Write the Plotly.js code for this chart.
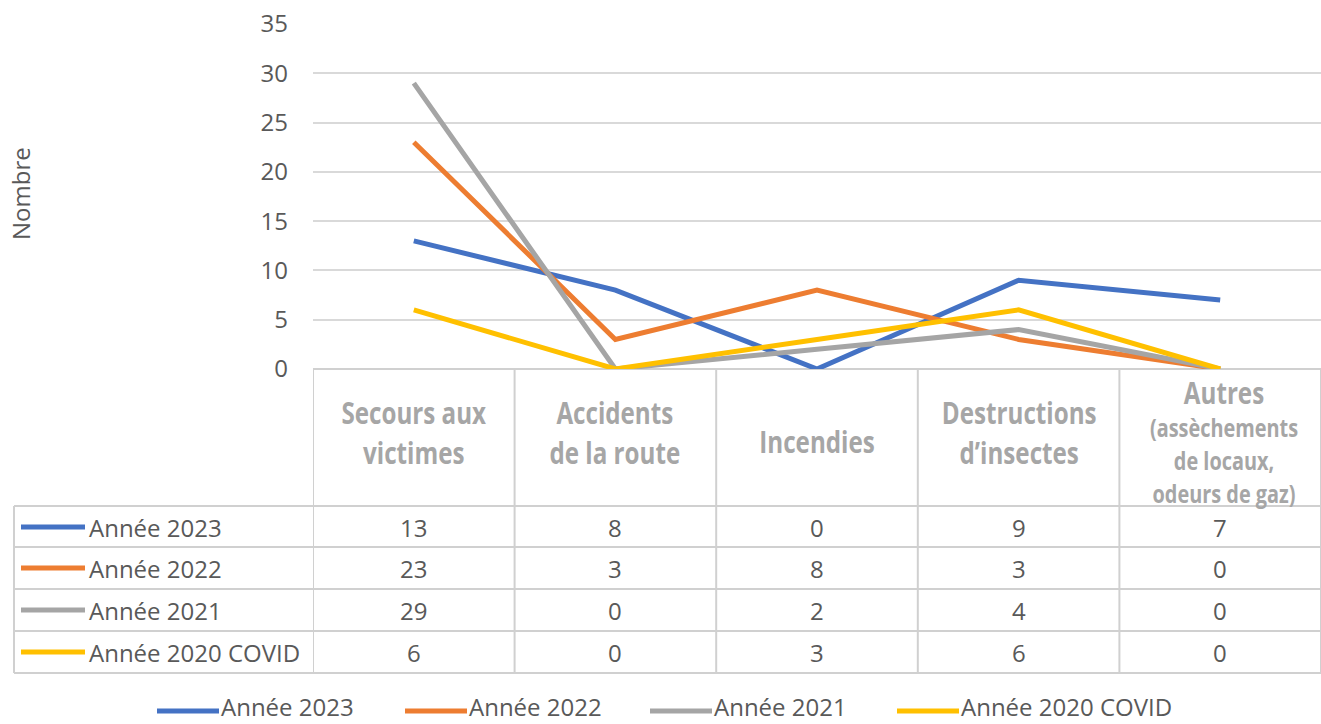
<!DOCTYPE html>
<html><head><meta charset="utf-8">
<script src="https://cdn.plot.ly/plotly-3.0.1.min.js"></script>
<style>html,body{margin:0;padding:0;background:#fff}</style></head>
<body>
<div id="chart" style="width:1321px;height:724px"></div>
<script>
// ---- data ----
const categories = ["Secours aux<br>victimes", "Accidents<br>de la route", "Incendies", "Destructions<br>d’insectes", "Autres"];
const autresDetail = "(assèchements<br>de locaux,<br>odeurs de gaz)";
const seriesNames = ["Année 2023", "Année 2022", "Année 2021", "Année 2020 COVID"];
const values2023 = [13, 8, 0, 9, 7];
const values2022 = [23, 3, 8, 3, 0];
const values2021 = [29, 0, 2, 4, 0];
const values2020 = [6, 0, 3, 6, 0];
const yTicks = [0, 5, 10, 15, 20, 25, 30, 35];
const yTitle = "Nombre";

// ---- style / layout ----
const allValues = [values2023, values2022, values2021, values2020];
const colors = ["#4472C4", "#ED7D31", "#A5A5A5", "#FFC000"];
const W = 1321, H = 724;
const px = x => x / W;
const py = y => 1 - y / H;
const gridCol = "#d9d9d9", tableCol = "#d0d0d0";
const txtCol = "#595959", headCol = "#a6a6a6";
const bodyFont = "Open Sans, Noto Sans, sans-serif";
const headFont = "Open Sans, Noto Sans, sans-serif";
const condense = 0.78;

const xIdx = categories.map((_, i) => i);
const traces = allValues.map((v, s) => ({
  type: "scatter", mode: "lines", x: xIdx, y: v, name: seriesNames[s],
  line: {color: colors[s], width: 5}, cliponaxis: false, showlegend: false
}));

const plotTop = 24, plotBottom = 369, plotLeft = 313;
const rowLines = [506, 547, 589, 631, 673];
const rowCenters = [527, 568, 610, 652];

const shapes = [];
const annotations = [];
const condensedIdx = [];
shapes.push({type: "line", xref: "paper", yref: "paper", x0: px(plotLeft), x1: 1, y0: py(plotBottom), y1: py(plotBottom), line: {color: tableCol, width: 2}, layer: "below"});
rowLines.forEach(y => shapes.push({type: "line", xref: "paper", yref: "paper", x0: px(14), x1: 1, y0: py(y), y1: py(y), line: {color: tableCol, width: 2}, layer: "below"}));
shapes.push({type: "line", xref: "paper", yref: "paper", x0: px(14), x1: px(14), y0: py(506), y1: py(673), line: {color: tableCol, width: 2}, layer: "below"});
for (let i = 0; i <= categories.length; i++) {
  shapes.push({type: "line", xref: "x", yref: "paper", x0: i - 0.5, x1: i - 0.5, y0: py(plotBottom), y1: py(673), line: {color: tableCol, width: 2}, layer: "below"});
}
categories.forEach((c, i) => {
  if (i === categories.length - 1) {
    condensedIdx.push(annotations.length);
    annotations.push({xref: "x", yref: "paper", x: i + 0.02, y: py(440), borderpad: 0,
      text: "<b><span style='font-size:31px'>" + c + "</span><br>" + autresDetail + "</b>", showarrow: false,
      font: {family: headFont, size: 25.5, color: headCol}, xanchor: "center", yanchor: "middle"});
  } else {
    const multi = c.indexOf("<br>") >= 0;
    condensedIdx.push(annotations.length);
    annotations.push({xref: "x", yref: "paper", x: i, y: py(multi ? 432 : 441), text: "<b>" + c + "</b>", showarrow: false,
      font: {family: headFont, size: 31, color: headCol}, xanchor: "center", yanchor: "middle"});
  }
});
allValues.forEach((v, s) => {
  const yc = rowCenters[s];
  shapes.push({type: "line", xref: "paper", yref: "paper", x0: px(21), x1: px(85), y0: py(yc), y1: py(yc), line: {color: colors[s], width: 5}});
  annotations.push({xref: "paper", yref: "paper", x: px(87), y: py(yc), text: seriesNames[s], showarrow: false,
    font: {family: bodyFont, size: 24, color: txtCol}, xanchor: "left", yanchor: "middle"});
  v.forEach((val, i) => {
    annotations.push({xref: "x", yref: "paper", x: i, y: py(yc), text: String(val), showarrow: false,
      font: {family: bodyFont, size: 24, color: txtCol}, xanchor: "center", yanchor: "middle"});
  });
});
const legendX = [157, 405, 650, 897];
seriesNames.forEach((n, s) => {
  const x0 = legendX[s];
  shapes.push({type: "line", xref: "paper", yref: "paper", x0: px(x0), x1: px(x0 + 62), y0: py(711), y1: py(711), line: {color: colors[s], width: 5}});
  annotations.push({xref: "paper", yref: "paper", x: px(x0 + 63), y: 0, text: n, showarrow: false, borderpad: 0,
    font: {family: bodyFont, size: 24, color: txtCol}, xanchor: "left", yanchor: "bottom"});
});
annotations.push({xref: "paper", yref: "paper", x: px(21), y: py(194), text: yTitle, textangle: -90, showarrow: false,
  font: {family: bodyFont, size: 24, color: txtCol}, xanchor: "center", yanchor: "middle"});

const layout = {
  width: W, height: H,
  margin: {l: 0, r: 0, t: 0, b: 0, pad: 0},
  paper_bgcolor: "#fff", plot_bgcolor: "#fff",
  showlegend: false,
  xaxis: {range: [-0.5, 4.5], domain: [px(plotLeft), 1], showticklabels: false, showgrid: false, zeroline: false, showline: false, ticks: "", fixedrange: true},
  yaxis: {range: [0, 35], domain: [py(plotBottom), py(plotTop)], tickvals: yTicks, ticktext: yTicks.map(String),
    showgrid: true, gridcolor: gridCol, gridwidth: 2, zeroline: false, showline: false, ticks: "",
    ticklabelstandoff: 24, tickfont: {family: bodyFont, size: 24, color: txtCol}, fixedrange: true},
  shapes: shapes, annotations: annotations
};
Plotly.newPlot("chart", traces, layout, {displayModeBar: false, staticPlot: true}).then(gd => {
  // narrow the header texts horizontally to imitate a condensed typeface
  condensedIdx.forEach(idx => {
    const g = gd.querySelector('.annotation[data-index="' + idx + '"]');
    const t = g && g.querySelector("text.annotation-text");
    if (!t) return;
    const bb = t.getBBox();
    const cx = bb.x + bb.width / 2;
    const prev = t.getAttribute("transform") || "";
    t.setAttribute("transform", prev + " translate(" + cx + ",0) scale(" + condense + ",1) translate(" + (-cx) + ",0)");
  });
});
</script>
</body></html>
